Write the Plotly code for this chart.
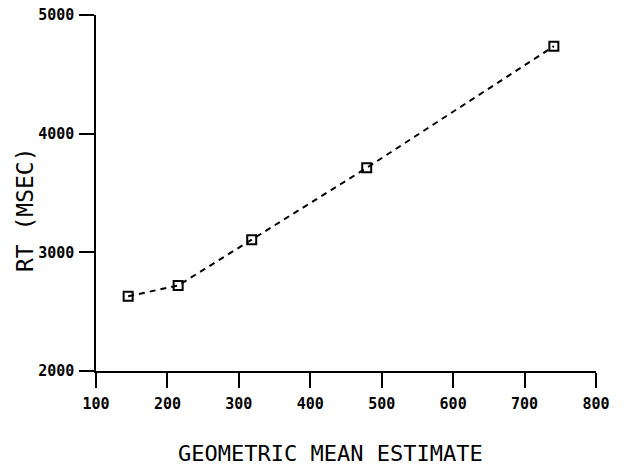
import plotly.graph_objects as go

x_vals = [145, 215, 318, 479, 741]
rt_vals = [2630, 2720, 3107, 3712, 4737]
x_ticks = [100, 200, 300, 400, 500, 600, 700, 800]
y_ticks = [2000, 3000, 4000, 5000]

fig = go.Figure()
fig.add_trace(go.Scatter(
    x=x_vals, y=rt_vals, mode="lines+markers",
    line=dict(color="black", width=2, dash="6px,5px"),
    marker=dict(symbol="square-open", size=9, color="black", line=dict(width=2, color="black")),
    showlegend=False,
))

tickfont = dict(family="DejaVu Sans Mono", size=15, color="black", weight="bold")
fig.update_xaxes(
    range=[100, 800], tickvals=x_ticks, ticktext=[str(v) for v in x_ticks],
    showline=True, linecolor="black", linewidth=1.5, ticks="outside", ticklen=15,
    tickwidth=1.5, tickcolor="black", showgrid=False, zeroline=False, tickfont=tickfont,
    automargin=False, ticklabelstandoff=3,
)
fig.update_yaxes(
    range=[2000, 5000], tickvals=y_ticks, ticktext=[str(v) for v in y_ticks],
    showline=True, linecolor="black", linewidth=1.5, ticks="outside", ticklen=15,
    tickwidth=1.5, tickcolor="black", showgrid=False, zeroline=False, tickfont=tickfont,
    automargin=False, ticklabelstandoff=2,
)
fig.add_annotation(text="GEOMETRIC MEAN ESTIMATE", xref="paper", yref="paper",
                   x=0.468, y=-0.233, xanchor="center", yanchor="middle", showarrow=False,
                   font=dict(family="DejaVu Sans Mono", size=22, color="black"))
fig.add_annotation(text="RT (MSEC)", xref="paper", yref="paper",
                   x=-0.142, y=0.452, xanchor="center", yanchor="middle", showarrow=False,
                   textangle=-90,
                   font=dict(family="DejaVu Sans Mono", size=23, color="black"))
fig.update_layout(
    width=624, height=467, margin=dict(l=96, r=28, t=15, b=96),
    plot_bgcolor="white", paper_bgcolor="white",
)
fig.write_html("out.html", config={"displayModeBar": False},
               post_script="document.body.style.margin='0';")
